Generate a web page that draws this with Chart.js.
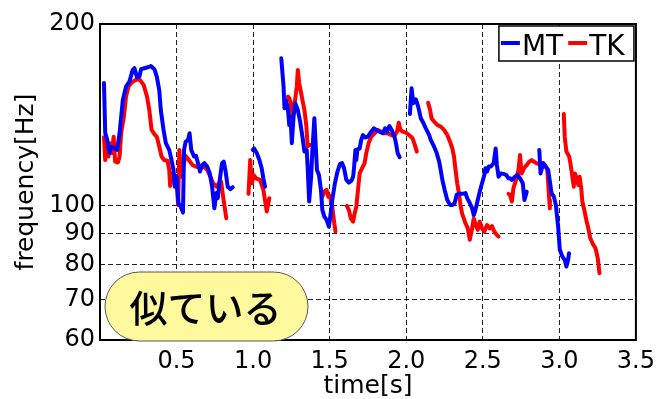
<!DOCTYPE html>
<html><head><meta charset="utf-8">
<script src="https://cdn.jsdelivr.net/npm/chart.js@4/dist/chart.umd.min.js"></script>
<style>html,body{margin:0;padding:0;background:#fff;overflow:hidden}canvas{display:block}</style>
</head><body>
<canvas id="c" width="662" height="399"></canvas>
<script>
const seriesNames = ['MT', 'TK'];
const xTicks = [0.5, 1.0, 1.5, 2.0, 2.5, 3.0, 3.5];
const yTicks = [60, 70, 80, 90, 100, 200];
const xTitle = 'time[s]';
const yTitle = 'frequency[Hz]';
const noteText = '似ている';

// MT (blue): each inner array is one voiced segment
const mtTime = [
  [0.026,0.034,0.047,0.063,0.073,0.095,0.112,0.128,0.149,0.170,0.192,0.214,0.225,0.242,0.257,0.268,0.290,0.311,0.332,0.355,0.371,0.387,0.397,0.415,0.430,0.452,0.467,0.480,0.488,0.501,0.512,0.527,0.542,0.549,0.559,0.575,0.585,0.596,0.614,0.627,0.640,0.653,0.668,0.682,0.700,0.717,0.732,0.747,0.760,0.769,0.782,0.797,0.808,0.819,0.834,0.851,0.867],
  [0.998,1.006,1.024,1.041,1.056,1.067,1.078],
  [1.184,1.199,1.205,1.214,1.227,1.236,1.244,1.253,1.264,1.275,1.292,1.307,1.322,1.335,1.350,1.356,1.366,1.379,1.387,1.400,1.408,1.417,1.430,1.443,1.452,1.465,1.480,1.495,1.504,1.517,1.534,1.551,1.567,1.581,1.594,1.609,1.625,1.642,1.653,1.659,1.668,1.674,1.681,1.696,1.706,1.717,1.732,1.750,1.771,1.789,1.804,1.826,1.847,1.862,1.875,1.890,1.905,1.923,1.933,1.944,1.957],
  [2.024,2.035,2.046,2.063,2.078,2.095,2.113,2.128,2.150,2.160,2.182,2.199,2.215,2.225,2.236,2.251,2.268,2.286,2.301,2.316,2.329,2.344,2.366,2.387,2.398,2.416,2.430,2.441,2.452,2.467,2.480,2.495,2.510,2.517,2.528,2.539,2.553,2.571,2.584,2.592,2.603,2.618,2.636,2.653,2.668,2.678,2.690,2.711,2.727,2.743,2.761,2.772,2.787],
  [2.869,2.877,2.895,2.927,2.949,2.964,2.977,2.992,3.003,3.020,3.035,3.046,3.057,3.063]
];
const mtFreq = [
  [159.7,132.1,128.6,122.4,125.2,124.7,123.8,132.1,149.7,157.5,160.6,167.9,169.0,163.2,163.6,168.4,169.0,169.6,170.4,168.4,163.6,155.5,144.1,133.6,127.0,123.8,119.1,114.7,107.6,111.8,101.1,99.7,97.5,123.8,127.7,128.6,131.9,123.8,120.7,121.0,117.7,114.0,116.9,117.7,116.2,113.2,107.6,99.1,105.0,103.0,110.4,117.7,118.4,114.7,107.6,106.6,107.4],
  [123.8,124.5,122.3,119.1,115.4,111.1,107.6],
  [175.5,157.3,145.1,149.7,145.1,136.1,140.5,127.0,140.5,147.9,144.1,137.9,130.2,123.0,123.8,116.2,101.7,111.8,123.8,139.7,127.0,114.7,112.5,106.3,98.5,96.0,94.8,92.4,96.0,102.3,109.0,114.0,117.3,117.7,115.4,110.4,109.3,110.1,111.8,115.4,123.8,119.1,124.1,124.5,128.6,131.0,129.8,130.2,132.7,134.4,133.6,132.7,131.9,134.4,132.7,135.6,133.6,130.2,127.0,122.3,120.4],
  [142.0,156.6,147.9,150.1,146.0,139.7,137.0,134.4,131.0,128.6,125.3,122.3,118.4,114.7,110.4,106.3,102.3,100.4,100.4,101.0,104.3,104.7,104.7,105.0,103.0,101.0,99.1,96.6,98.5,102.3,105.6,109.0,112.5,115.4,114.0,116.2,116.2,117.7,124.5,116.9,111.8,113.2,113.0,112.5,111.1,111.1,110.4,111.8,112.5,111.1,109.0,102.3,105.6],
  [123.8,113.2,117.7,114.7,105.0,103.6,100.4,92.4,84.6,82.4,81.4,79.4,81.4,83.5]
];

// TK (red)
const tkTime = [
  [0.026,0.034,0.045,0.056,0.069,0.078,0.089,0.099,0.117,0.128,0.138,0.156,0.170,0.186,0.203,0.225,0.246,0.264,0.285,0.307,0.322,0.337,0.355,0.371,0.387,0.402,0.419,0.441,0.452,0.458,0.473,0.488,0.501,0.510,0.518,0.531,0.544,0.559,0.581,0.603,0.624,0.646,0.679,0.700,0.721,0.739,0.760,0.776,0.791,0.804,0.825],
  [0.970,0.981,0.992,1.003,1.019,1.045,1.067,1.089,1.106],
  [1.227,1.236,1.244,1.257,1.270,1.285,1.292,1.301,1.318,1.335,1.348,1.356,1.369],
  [1.452,1.465,1.480,1.491,1.502,1.517,1.530,1.538],
  [1.612,1.625,1.638,1.653,1.664,1.674,1.685,1.696,1.711,1.728,1.739,1.754,1.771,1.793,1.815,1.836,1.858,1.879,1.901,1.923,1.940,1.951,1.962,1.977,1.998,2.020,2.041,2.056,2.069],
  [2.143,2.156,2.165,2.182,2.204,2.225,2.247,2.268,2.286,2.301,2.312,2.322,2.333,2.344,2.354,2.365,2.387,2.402,2.415,2.430,2.441,2.454,2.467,2.480,2.495,2.510,2.528,2.545,2.560,2.575,2.592,2.603],
  [2.668,2.678,2.690,2.700,2.717,2.733,2.743,2.754,2.769,2.787,2.804,2.819,2.841,2.863,2.884,2.905,2.921,2.927,2.934,2.938],
  [3.029,3.035,3.046,3.064,3.072,3.085,3.094,3.102,3.115,3.124,3.132,3.143,3.150,3.165,3.176,3.187,3.202,3.219,3.236,3.251,3.262]
];
const tkFreq = [
  [129.9,119.1,128.6,120.7,127.0,122.3,130.2,118.4,118.0,120.7,131.9,140.5,151.7,157.5,159.7,161.2,162.1,161.2,158.6,151.7,144.1,133.6,131.5,130.2,125.4,120.7,119.1,118.8,114.7,107.9,113.2,112.5,109.0,100.4,123.8,111.8,116.2,121.0,119.1,116.9,116.2,115.9,116.2,114.7,111.8,109.0,107.6,109.0,109.7,103.6,95.4],
  [104.7,119.1,109.0,112.5,111.1,110.4,106.3,97.9,103.0],
  [151.7,150.7,148.8,140.5,146.9,157.5,167.9,159.7,151.7,144.1,135.3,125.4,126.2],
  [103.6,105.6,106.3,103.6,103.9,99.7,93.6,90.7],
  [100.0,98.5,95.4,94.2,97.4,99.7,106.3,113.2,115.4,117.7,122.3,127.0,130.2,131.9,133.6,132.7,131.9,131.9,131.0,130.6,132.7,137.3,133.6,132.7,132.2,131.0,129.4,126.2,123.0],
  [148.2,144.1,139.7,137.9,136.1,135.3,133.6,131.0,127.7,124.5,120.7,114.7,109.0,105.0,100.4,97.1,93.6,91.8,87.9,91.8,95.4,93.0,91.3,94.2,91.8,90.7,93.0,91.8,92.6,90.7,89.5,89.0],
  [104.7,104.3,101.7,107.0,110.4,114.7,121.4,113.2,115.4,116.9,118.4,119.1,118.0,117.3,117.7,116.9,114.7,109.0,102.3,99.1],
  [142.0,130.2,123.0,120.7,117.7,111.8,107.6,113.2,110.4,108.3,111.8,106.9,101.7,97.9,94.8,92.4,88.4,86.5,85.1,81.9,77.4]
];

function buildData(times, freqs) {
  const out = [];
  times.forEach((seg, i) => {
    if (i > 0) out.push({ x: seg[0], y: null });
    seg.forEach((t, j) => out.push({ x: t, y: freqs[i][j] }));
  });
  return out;
}

const FONT = 'DejaVu Sans';
const GRID = '#222';
const CLEAR = 'rgba(0,0,0,0)';

const framePlugin = {
  id: 'frame',
  afterDraw(chart) {
    const { ctx, chartArea: a } = chart;
    ctx.save();
    ctx.strokeStyle = '#000';
    ctx.lineWidth = 2;
    ctx.setLineDash([]);
    ctx.strokeRect(a.left, a.top, a.right - a.left, a.bottom - a.top);

    // legend box
    const lx = a.right - 137, ly = a.top + 2, lw = 135, lh = 35;
    ctx.fillStyle = '#fff';
    ctx.fillRect(lx, ly, lw, lh);
    ctx.lineWidth = 1.5;
    ctx.strokeRect(lx, ly, lw, lh);
    ctx.font = '28px "' + FONT + '"';
    ctx.textBaseline = 'alphabetic';
    ctx.textAlign = 'left';
    let cx = lx + 2;
    chart.data.datasets.forEach((ds) => {
      ctx.strokeStyle = ds.borderColor;
      ctx.lineWidth = 4;
      ctx.beginPath();
      ctx.moveTo(cx, ly + 17);
      ctx.lineTo(cx + 19, ly + 17);
      ctx.stroke();
      ctx.fillStyle = '#000';
      ctx.fillText(ds.label, cx + 21, ly + 29);
      cx += 21 + ctx.measureText(ds.label).width + 5;
    });

    // note bubble
    const bx = a.left + 5, by = a.bottom - 68, bw = 203, bh = 69, r = bh / 2;
    ctx.beginPath();
    ctx.moveTo(bx + r, by);
    ctx.lineTo(bx + bw - r, by);
    ctx.arc(bx + bw - r, by + r, r, -Math.PI / 2, Math.PI / 2);
    ctx.lineTo(bx + r, by + bh);
    ctx.arc(bx + r, by + r, r, Math.PI / 2, Math.PI * 1.5);
    ctx.closePath();
    ctx.fillStyle = '#fdf99c';
    ctx.fill();
    ctx.strokeStyle = '#555';
    ctx.lineWidth = 1;
    ctx.stroke();
    ctx.fillStyle = '#000';
    ctx.font = '500 38px "Noto Sans CJK JP"';
    ctx.textAlign = 'center';
    ctx.textBaseline = 'middle';
    ctx.fillText(noteText, bx + bw / 2 - 1, by + bh / 2 + 1);
    ctx.restore();
  }
};

new Chart(document.getElementById('c'), {
  type: 'line',
  data: {
    datasets: [
      { label: seriesNames[0], data: buildData(mtTime, mtFreq), borderColor: '#0000ff', borderWidth: 4, pointRadius: 0, tension: 0, spanGaps: false, borderJoinStyle: 'round', borderCapStyle: 'round' },
      { label: seriesNames[1], data: buildData(tkTime, tkFreq), borderColor: '#ff0000', borderWidth: 4, pointRadius: 0, tension: 0, spanGaps: false, borderJoinStyle: 'round', borderCapStyle: 'round' }
    ]
  },
  options: {
    responsive: false,
    animation: false,
    devicePixelRatio: 1,
    layout: { padding: { top: 24, right: 22, left: 0, bottom: 0 } },
    plugins: { legend: { display: false }, tooltip: { enabled: false } },
    scales: {
      x: {
        type: 'linear', min: 0, max: 3.5,
        afterBuildTicks: (s) => { s.ticks = xTicks.map(v => ({ value: v })); },
        afterFit: (s) => { s.height = 59; },
        ticks: { callback: (v) => Number(v).toFixed(1), font: { family: FONT, size: 24 }, color: '#000', padding: 7, maxRotation: 0, autoSkip: false },
        grid: { color: (c) => (c.tick && c.tick.value < 3.5) ? GRID : CLEAR, lineWidth: 1, drawTicks: false },
        border: { display: false, dash: [5, 3] },
        title: { display: true, text: xTitle, font: { family: FONT, size: 25, lineHeight: 1.0 }, color: '#000', padding: { top: 0, bottom: 0 } }
      },
      y: {
        type: 'logarithmic', min: 60, max: 200,
        afterBuildTicks: (s) => { s.ticks = yTicks.map(v => ({ value: v })); },
        afterFit: (s) => { s.width = 100; },
        ticks: { callback: (v) => String(v), font: { family: FONT, size: 24 }, color: '#000', padding: 5, autoSkip: false },
        grid: { color: (c) => (c.tick && [70, 80, 90, 100].includes(c.tick.value)) ? GRID : CLEAR, lineWidth: 1, drawTicks: false },
        border: { display: false, dash: [5, 3] },
        title: { display: true, text: yTitle, font: { family: FONT, size: 25 }, color: '#000', padding: { top: 11, bottom: 0 } }
      }
    }
  },
  plugins: [framePlugin]
});
</script>
</body></html>
